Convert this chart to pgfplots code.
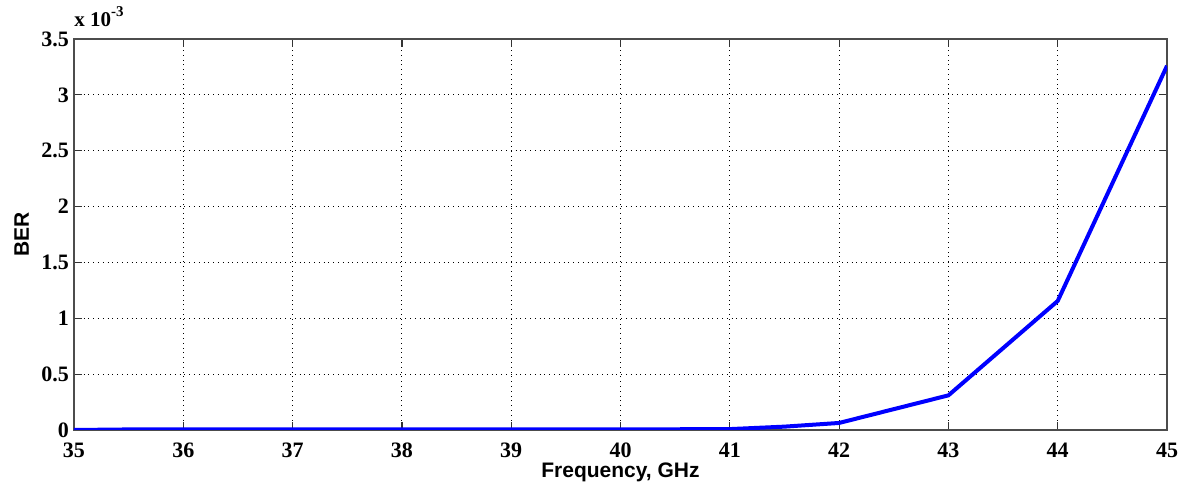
\documentclass[border=0pt]{standalone}
\usepackage{fontspec}
\setmainfont{Liberation Serif}
\newfontfamily\arialfont{Liberation Sans}
\usepackage{pgfplots}
\pgfplotsset{compat=1.18}

\begin{document}
\begin{tikzpicture}
\useasboundingbox (-37pt,-30pt) rectangle (557pt,215pt);
\begin{axis}[
  name=ax,
  at={(0,0)}, anchor=south west,
  scale only axis,
  width=546.5pt,
  height=195.5pt,
  xmin=35, xmax=45,
  ymin=0, ymax=3.5,
  xtick={35,36,...,45},
  ytick={0,0.5,...,3.5},
  yticklabels={0,0.5,1,1.5,2,2.5,3,3.5},
  scaled y ticks=false,
  tick align=inside,
  tick pos=both,
  major tick length=4pt,
  grid=major,
  major grid style={black, dotted, line width=0.5pt},
  axis line style={black!70, line width=0.7pt},
  tick style={black!80, line width=0.6pt},
  ticklabel style={font=\fontsize{11}{12}\selectfont\bfseries},
  /pgf/number format/assume math mode=true,
  xticklabel style={yshift=-3pt},
  yticklabel style={xshift=1pt},
  xlabel={\arialfont\bfseries Frequency, GHz},
  ylabel={\arialfont\bfseries BER},
  label style={font=\fontsize{10.5}{12}\selectfont},
  xlabel style={at={(axis description cs:0.5,0)}, anchor=north, yshift=-13pt},
  ylabel style={at={(axis description cs:0,0.5)}, anchor=south, yshift=19pt},
]
\addplot[color=blue, line width=2pt] coordinates {
  (35,0.0) (35.5,0.005) (36,0.005) (37,0.005) (38,0.005) (39,0.005)
  (40,0.005) (41,0.008) (41.5,0.03) (42,0.063) (43,0.31) (44,1.155) (45,3.26)
};
\end{axis}
\node[anchor=south west, inner sep=0pt, font=\fontsize{10.5}{11}\selectfont\bfseries]
  at ([yshift=6pt]ax.north west) {x 10\raisebox{5pt}{\fontsize{7.5}{8}\selectfont -3}};
\end{tikzpicture}
\end{document}
